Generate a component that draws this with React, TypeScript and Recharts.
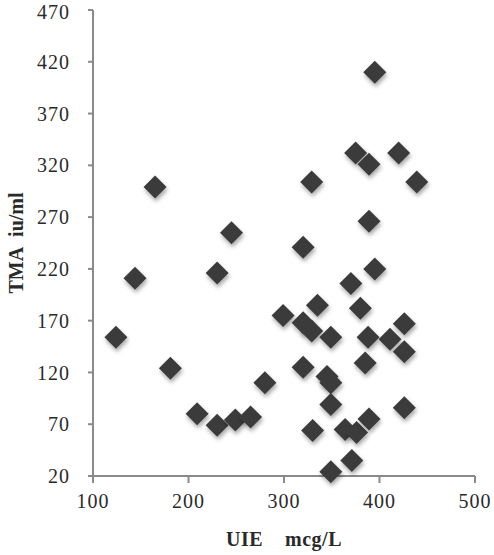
import React from "react";
import { ScatterChart, Scatter, XAxis, YAxis } from "recharts";

// UIE (mcg/L) vs TMA (iu/ml), one entry per subject
const uieValues = [
  124, 144, 165, 181, 209, 230, 230, 245, 249, 265, 280, 299, 320, 320, 320,
  329, 329, 330, 335, 345, 349, 349, 349, 349, 364, 370, 371, 375, 376, 380,
  385, 388, 389, 389, 389, 395, 395, 411, 420, 426, 426, 426, 439,
];
const tmaValues = [
  154, 211, 299, 124, 80, 69, 216, 255, 74, 77, 110, 175, 241, 168, 125,
  304, 160, 64, 185, 116, 110, 154, 89, 24, 65, 206, 35, 332, 62, 182,
  129, 154, 321, 266, 75, 410, 220, 152, 332, 167, 140, 86, 304,
];

const xTicks = [100, 200, 300, 400, 500];
const yTicks = [20, 70, 120, 170, 220, 270, 320, 370, 420, 470];

const points = uieValues.map((x, i) => ({ uie: x, tma: tmaValues[i] }));

const AXIS_GREY = "#8a8a8a";
const TEXT = "#2a2a2a";
const SERIF = "'Liberation Serif', 'Times New Roman', serif";

const tickStyle = { fontFamily: SERIF, fontSize: 20, fill: TEXT, letterSpacing: 1 };

// diamond marker with a soft drop shadow, like the Excel original
const Diamond = (props: any) => {
  const { cx, cy } = props;
  const r = 11.5;
  return (
    <polygon
      points={`${cx},${cy - r} ${cx + r},${cy} ${cx},${cy + r} ${cx - r},${cy}`}
      fill="#3b3b3b"
      filter="url(#diamondShadow)"
    />
  );
};

const YTitle = (props: any) => {
  const { viewBox } = props;
  const x = viewBox.x + 16;
  const y = viewBox.y + viewBox.height / 2;
  return (
    <text
      x={x}
      y={y}
      transform={`rotate(-90 ${x} ${y})`}
      textAnchor="middle"
      dominantBaseline="central"
      fontFamily={SERIF}
      fontSize={20}
      fontWeight="bold"
      fill={TEXT}
    >
      {"TMA\u00A0\u00A0iu/ml"}
    </text>
  );
};

export default function App() {
  return (
    <div style={{ position: "absolute", left: 0, top: 0, width: 494, height: 555, background: "#fff" }}>
      <svg width={0} height={0} style={{ position: "absolute" }}>
        <defs>
          <filter id="diamondShadow" x="-50%" y="-50%" width="200%" height="200%">
            <feDropShadow dx={1} dy={3} stdDeviation={2} floodColor="#000" floodOpacity={0.35} />
          </filter>
        </defs>
      </svg>
      <ScatterChart width={494} height={555} margin={{ top: 10, right: 19, bottom: 0, left: 0 }}>
        <XAxis
          type="number"
          dataKey="uie"
          domain={[100, 500]}
          ticks={xTicks}
          height={79}
          tickSize={7}
          tickMargin={11}
          tick={tickStyle}
          axisLine={{ stroke: AXIS_GREY, strokeWidth: 2 }}
          tickLine={{ stroke: AXIS_GREY, strokeWidth: 2 }}
          label={{
            value: "UIE\u00A0\u00A0\u00A0\u00A0mcg/L",
            position: "insideBottom",
            offset: 9,
            style: { fontFamily: SERIF, fontSize: 20, fontWeight: "bold", fill: TEXT, letterSpacing: 0.5 },
          }}
        />
        <YAxis
          type="number"
          dataKey="tma"
          domain={[20, 470]}
          ticks={yTicks}
          width={93}
          tickSize={5}
          tickMargin={18}
          tick={tickStyle}
          axisLine={{ stroke: AXIS_GREY, strokeWidth: 2 }}
          tickLine={{ stroke: AXIS_GREY, strokeWidth: 2 }}
          label={<YTitle />}
        />
        <Scatter data={points} shape={<Diamond />} isAnimationActive={false} />
      </ScatterChart>
    </div>
  );
}
